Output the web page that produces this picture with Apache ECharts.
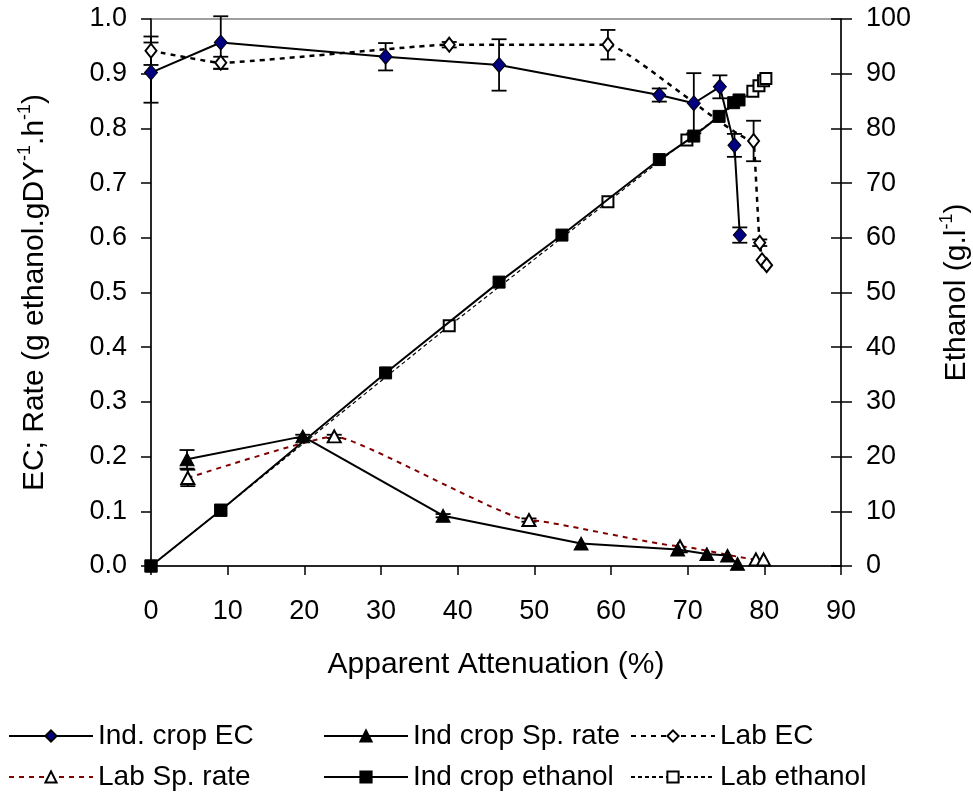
<!DOCTYPE html>
<html>
<head>
<meta charset="utf-8">
<script src="https://cdn.jsdelivr.net/npm/echarts@6/dist/echarts.min.js"></script>
<style>
  html, body { margin: 0; padding: 0; background: #fff; }
  #chart { width: 973px; height: 801px; }
</style>
</head>
<body>
<div id="chart"></div>
<script>
// Industrial crop: efficiency coefficient (EC)
const indEcX   = [0, 9.1, 30.6, 45.4, 66.3, 70.8, 74.2, 76.1, 76.8];
const indEc    = [0.902, 0.957, 0.931, 0.916, 0.861, 0.846, 0.876, 0.769, 0.605];
const indEcErr = [0.055, 0.048, 0.025, 0.047, 0.012, 0.055, 0.021, 0.021, 0.014];

// Industrial crop: specific fermentation rate
const indRateX   = [4.7, 19.8, 38.1, 56.1, 68.7, 72.5, 75.2, 76.5];
const indRate    = [0.195, 0.237, 0.092, 0.041, 0.030, 0.022, 0.019, 0.004];
const indRateErr = [0.017, 0.003, 0.003, 0, 0, 0, 0, 0];

// Laboratory: efficiency coefficient (EC)
const labEcX   = [0, 9.1, 38.9, 59.6, 78.6, 79.4, 79.7, 80.3];
const labEc    = [0.942, 0.920, 0.953, 0.953, 0.777, 0.591, 0.559, 0.550];
const labEcErr = [0.026, 0.011, 0.005, 0.027, 0.037, 0.006, 0, 0];

// Laboratory: specific fermentation rate
const labRateX   = [4.8, 23.9, 49.3, 69.0, 78.9, 79.9];
const labRate    = [0.161, 0.237, 0.084, 0.036, 0.012, 0.012];
const labRateErr = [0.015, 0.003, 0.003, 0, 0, 0];

// Ethanol (g/l), right axis
const indEthX = [0, 9.1, 30.6, 45.4, 53.6, 66.3, 70.8, 74.1, 76.0, 76.7];
const indEth  = [0, 10.2, 35.3, 51.9, 60.5, 74.3, 78.6, 82.2, 84.7, 85.2];
const labEthX = [0, 9.1, 38.9, 59.6, 69.9, 78.5, 79.3, 79.9, 80.2];
const labEth  = [0, 10.2, 43.9, 66.6, 77.9, 86.8, 87.8, 88.7, 89.1];

const seriesNames = ['Ind. crop EC', 'Ind crop Sp. rate', 'Lab EC',
                     'Lab Sp. rate', 'Ind crop ethanol', 'Lab ethanol'];

const FONT = '"Liberation Sans", Arial, sans-serif';

function pairs(xs, ys) { return xs.map((x, i) => [x, ys[i]]); }
function errRows(xs, ys, es) {
  const rows = [];
  xs.forEach((x, i) => { if (es[i] > 0) rows.push([x, ys[i] - es[i], ys[i] + es[i]]); });
  return rows;
}

const errorData = [].concat(
  errRows(indEcX, indEc, indEcErr),
  errRows(labEcX, labEc, labEcErr),
  errRows(indRateX, indRate, indRateErr),
  errRows(labRateX, labRate, labRateErr)
);

const chart = echarts.init(document.getElementById('chart'), null, { renderer: 'canvas' });

const axisLine = { show: true, lineStyle: { color: '#000', width: 1.5 } };
const tickLabel = { color: '#000', fontSize: 27, fontFamily: FONT };

function legendAt(name, left, top) {
  return {
    data: [name], left: left, top: top, orient: 'horizontal',
    itemWidth: 84, itemHeight: 14, itemGap: 0, padding: 0,
    textStyle: { color: '#000', fontSize: 28, fontFamily: FONT, lineHeight: 32, padding: [0, 0, 0, 0] }
  };
}

const option = {
  backgroundColor: '#fff',
  animation: false,
  grid: { left: 151, right: 132, top: 19, bottom: 235, show: true, outerBoundsMode: 'none',
          containLabel: false,
          borderColor: '#808080', borderWidth: 1.5, backgroundColor: 'transparent' },
  legend: [
    legendAt(seriesNames[0], 8, 720),
    legendAt(seriesNames[1], 323, 720),
    legendAt(seriesNames[2], 630, 720),
    legendAt(seriesNames[3], 8, 761),
    legendAt(seriesNames[4], 323, 761),
    legendAt(seriesNames[5], 630, 761)
  ],
  xAxis: {
    type: 'value', min: 0, max: 90, interval: 10,
    axisLine: axisLine,
    axisTick: { show: true, inside: false, length: 9, lineStyle: { color: '#000', width: 1.5 } },
    axisLabel: Object.assign({ margin: 32 }, tickLabel),
    splitLine: { show: false },
    name: 'Apparent Attenuation (%)', nameLocation: 'middle', nameGap: 84,
    nameTextStyle: { color: '#000', fontSize: 30, fontFamily: FONT }
  },
  yAxis: [
    {
      type: 'value', position: 'left', min: 0, max: 1, interval: 0.1,
      axisLine: axisLine,
      axisTick: { show: true, inside: false, length: 10, lineStyle: { color: '#000', width: 1.5 } },
      axisLabel: Object.assign({ margin: 24, formatter: v => v.toFixed(1) }, tickLabel),
      splitLine: { show: false },
      name: 'EC; Rate (g ethanol.gDY{sup|-1}.h{sup|-1})',
      nameLocation: 'middle', nameGap: 97, nameRotate: 90,
      nameTextStyle: {
        color: '#000', fontSize: 30, fontFamily: FONT, lineHeight: 38,
        rich: { sup: { fontSize: 18, fontFamily: FONT, color: '#000', verticalAlign: 'top', lineHeight: 20 } }
      }
    },
    {
      type: 'value', position: 'right', min: 0, max: 100, interval: 10,
      axisLine: axisLine,
      axisTick: { show: true, inside: true, length: 10, lineStyle: { color: '#000', width: 1.5 } },
      axisLabel: Object.assign({ margin: 25 }, tickLabel),
      splitLine: { show: false },
      name: 'Ethanol (g.l{sup|-1})',
      nameLocation: 'middle', nameGap: 97, nameRotate: 90,
      nameTextStyle: {
        color: '#000', fontSize: 30, fontFamily: FONT, lineHeight: 38,
        rich: { sup: { fontSize: 18, fontFamily: FONT, color: '#000', verticalAlign: 'top', lineHeight: 20 } }
      }
    },
    {
      // outer half of the crossing ticks on the ethanol axis
      type: 'value', position: 'right', min: 0, max: 100, interval: 10,
      axisLine: { show: false },
      axisTick: { show: true, inside: false, length: 11, lineStyle: { color: '#000', width: 1.5 } },
      axisLabel: { show: false },
      splitLine: { show: false }
    }
  ],
  series: [
    {
      name: seriesNames[0], type: 'line', yAxisIndex: 0, z: 4,
      data: pairs(indEcX, indEc),
      symbol: 'diamond', symbolSize: [13, 15],
      lineStyle: { color: '#000', width: 2 },
      itemStyle: { color: '#000080', borderColor: '#000', borderWidth: 1 }
    },
    {
      name: seriesNames[1], type: 'line', yAxisIndex: 0, z: 4,
      data: pairs(indRateX, indRate),
      symbol: 'triangle', symbolSize: [14, 13],
      lineStyle: { color: '#000', width: 2 },
      itemStyle: { color: '#000', borderColor: '#000', borderWidth: 1 }
    },
    {
      name: seriesNames[2], type: 'line', yAxisIndex: 0, z: 3,
      data: pairs(labEcX, labEc),
      smooth: 0.12, smoothMonotone: 'x',
      symbol: 'diamond', symbolSize: [11, 14],
      lineStyle: { color: '#000', width: 2.5, type: [5, 5] },
      itemStyle: { color: '#fff', borderColor: '#000', borderWidth: 2 }
    },
    {
      name: seriesNames[3], type: 'line', yAxisIndex: 0, z: 3,
      data: pairs(labRateX, labRate),
      smooth: 0.12, smoothMonotone: 'x',
      symbol: 'triangle', symbolSize: [13, 12],
      lineStyle: { color: '#800000', width: 2, type: [5, 5] },
      itemStyle: { color: '#fff', borderColor: '#000', borderWidth: 2 }
    },
    {
      name: seriesNames[4], type: 'line', yAxisIndex: 1, z: 4,
      data: pairs(indEthX, indEth),
      symbol: 'rect', symbolSize: 12,
      lineStyle: { color: '#000', width: 2 },
      itemStyle: { color: '#000', borderColor: '#000', borderWidth: 1 }
    },
    {
      name: seriesNames[5], type: 'line', yAxisIndex: 1, z: 3,
      data: pairs(labEthX, labEth),
      symbol: 'rect', symbolSize: 11,
      lineStyle: { color: '#000', width: 1.2, type: [4, 3] },
      itemStyle: { color: '#fff', borderColor: '#000', borderWidth: 2 }
    },
    {
      name: 'error', type: 'custom', yAxisIndex: 0, z: 2, clip: false,
      data: errorData,
      encode: { x: 0, y: [1, 2] },
      renderItem: function (params, api) {
        const x = api.value(0);
        const lo = api.coord([x, api.value(1)]);
        const hi = api.coord([x, api.value(2)]);
        const half = 7.5;
        const style = { stroke: '#000', lineWidth: 1.8, fill: null };
        return {
          type: 'group',
          children: [
            { type: 'line', shape: { x1: lo[0], y1: lo[1], x2: hi[0], y2: hi[1] }, style: style },
            { type: 'line', shape: { x1: lo[0] - half, y1: lo[1], x2: lo[0] + half, y2: lo[1] }, style: style },
            { type: 'line', shape: { x1: hi[0] - half, y1: hi[1], x2: hi[0] + half, y2: hi[1] }, style: style }
          ]
        };
      }
    }
  ]
};

chart.setOption(option);
</script>
</body>
</html>
